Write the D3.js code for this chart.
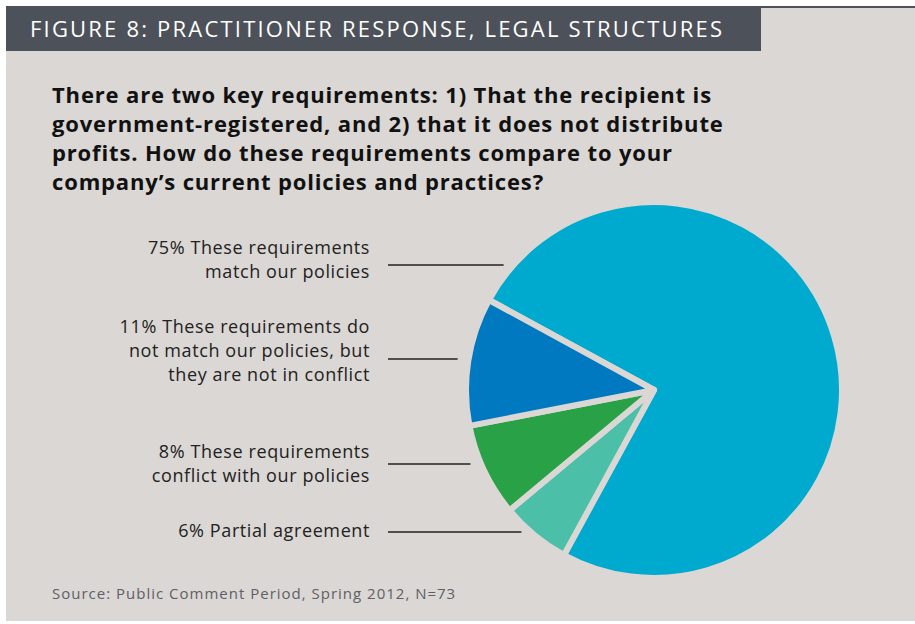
<!DOCTYPE html>
<html>
<head>
<meta charset="utf-8">
<script src="https://cdn.jsdelivr.net/npm/d3@7"></script>
<style>
  body { margin: 0; background: #ffffff; }
  text { font-family: "Open Sans", sans-serif; }
</style>
</head>
<body>
<div id="chart"></div>
<script>
const width = 915
const height = 624

// data
const categories = [
    "These requirements match our policies",
    "These requirements do not match our policies, but they are not in conflict",
    "These requirements conflict with our policies",
    "Partial agreement"
]
const values = [75, 11, 8, 6]
const labelLines = [
    ["75% These requirements", "match our policies"],
    ["11% These requirements do", "not match our policies, but", "they are not in conflict"],
    ["8% These requirements", "conflict with our policies"],
    ["6% Partial agreement"]
]
const colors = ["#00a9ce", "#0079c1", "#28a147", "#4cbfa8"]
const labelY = [248, 327, 452, 531]
const leaderY = [265, 359, 464, 532]

const titleText = "FIGURE 8: PRACTITIONER RESPONSE, LEGAL STRUCTURES"
const question = [
    "There are two key requirements: 1) That the recipient is",
    "government-registered, and 2) that it does not distribute",
    "profits. How do these requirements compare to your",
    "company\u2019s current policies and practices?"
]
const sourceText = "Source: Public Comment Period, Spring 2012, N=73"

const bg = "#dad7d4"
const center = {x: 654, y: 390}
const radius = 188
const gap = 6

const svg = d3.select("div#chart").append("svg").attr("width", width).attr("height", height)

// panel background + header
svg.append("rect").attr("x", 6).attr("y", 6).attr("width", width - 6).attr("height", 615).attr("fill", bg)
svg.append("rect").attr("x", 6).attr("y", 6).attr("width", width - 6).attr("height", 2).attr("fill", "#4d5159")
svg.append("rect").attr("x", 6).attr("y", 8).attr("width", 755).attr("height", 43).attr("fill", "#4d5159")
svg.append("text").text(titleText)
    .attr("x", 30).attr("y", 37)
    .attr("fill", "#ffffff").style("font-size", "22px").style("letter-spacing", "2.2px")

svg.append("g").selectAll("text").data(question).enter().append("text")
    .text(d => d)
    .attr("x", 52).attr("y", (d, i) => 103 + i * 29)
    .attr("fill", "#111111").style("font-size", "22px").style("font-weight", 700)
    .style("letter-spacing", "0.85px")

// pie: big slice starts upper-left, goes clockwise
const pieOrder = [0, 3, 2, 1]
const pie = d3.pie().sort(null).value(i => values[i])
    .startAngle(-61.4 * Math.PI / 180).endAngle((360 - 61.4) * Math.PI / 180)
const arc = d3.arc().innerRadius(0).outerRadius(radius)

const pieGroup = svg.append("g").attr("transform", `translate(${center.x}, ${center.y})`)
pieGroup.selectAll("path").data(pie(pieOrder)).enter().append("path")
    .attr("d", arc)
    .attr("fill", d => colors[d.data])
    .attr("stroke", bg).attr("stroke-width", gap).attr("stroke-linejoin", "round")

// labels + leader lines
const labelGroup = svg.append("g")
const visibleR = radius - gap / 2
labelLines.forEach((lines, i) => {
    labelGroup.append("g").selectAll("text").data(lines).enter().append("text")
        .text(d => d)
        .attr("x", 370).attr("y", (d, j) => labelY[i] + 6 + j * 24)
        .attr("text-anchor", "end")
        .attr("fill", "#222222").style("font-size", "18px").style("letter-spacing", "0.6px")

    let dy = leaderY[i] - center.y
    let edgeX = center.x - Math.sqrt(visibleR * visibleR - dy * dy)
    labelGroup.append("line")
        .attr("x1", 388).attr("x2", edgeX - 14)
        .attr("y1", leaderY[i]).attr("y2", leaderY[i])
        .attr("stroke", "#222222").attr("stroke-width", 1.5)
})

svg.append("text").text(sourceText)
    .attr("x", 52).attr("y", 599)
    .attr("fill", "#5f6066").style("font-size", "15px").style("letter-spacing", "1px")
</script>
</body>
</html>
